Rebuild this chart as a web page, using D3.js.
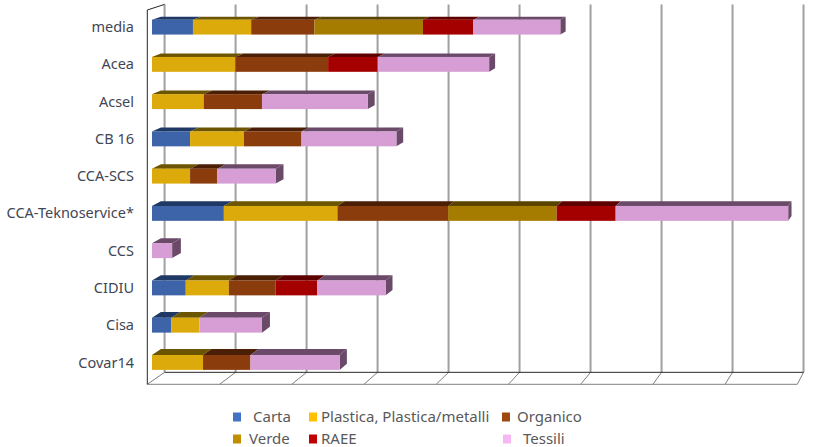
<!DOCTYPE html>
<html>
<head>
<meta charset="utf-8">
<script src="https://cdn.jsdelivr.net/npm/d3@7"></script>
<style>
  body { margin: 0; background: #fff; }
  svg { display: block; }
  text { font-family: "Noto Sans", sans-serif; }
</style>
</head>
<body>
<div id="chart"></div>
<script>
// data (no axis labels shown, one gridline = 10)
let categories = ["media", "Acea", "Acsel", "CB 16", "CCA-SCS", "CCA-Teknoservice*", "CCS", "CIDIU", "Cisa", "Covar14"];
let carta    = [5.7, 0, 0, 5.3, 0, 10.0, 0, 4.7, 2.7, 0];
let plastica = [8.1, 11.6, 7.2, 7.5, 5.3, 15.8, 0, 6.0, 3.9, 7.1];
let organico = [8.8, 12.9, 8.1, 8.0, 3.8, 15.4, 0, 6.5, 0, 6.6];
let verde    = [15.1, 0, 0, 0, 0, 15.1, 0, 0, 0, 0];
let raee     = [7.0, 6.9, 0, 0, 0, 8.2, 0, 5.8, 0, 0];
let tessili  = [12.1, 15.5, 14.7, 13.2, 8.1, 24.0, 2.8, 9.5, 8.7, 12.4];
let seriesNames = ["Carta", "Plastica, Plastica/metalli", "Organico", "Verde", "RAEE", "Tessili"];
let xTicks = [0, 10, 20, 30, 40, 50, 60, 70, 80, 90];

let width = 819, height = 447;

// front, top and legend colours per series
let frontCol  = ["#3d64a8", "#dcaa0a", "#8a3c0c", "#a67c00", "#a50000", "#d69ed5"];
let topCol    = ["#1f3864", "#6b5500", "#4a1f06", "#5a4300", "#5c0000", "#6b4a69"];
let legendCol = ["#4472c4", "#ffc000", "#9e480e", "#bf8f00", "#c00000", "#f6b8f2"];

// simple perspective: depth t pulls a point toward the vanishing point
let V = [1164, -320];
let proj = (x, y, t) => [x + t * (V[0] - x), y + t * (V[1] - y)];
let tFloor = 0.017, t0 = 0.0046, t1 = 0.0134;

let x = d3.scaleLinear().domain([0, 90]).range([147.3, 797.3]);
let y = d3.scaleBand().domain(categories).range([10, 384.3]).paddingInner(0.6).paddingOuter(0.3);
let yTop = 10, yBottom = 384.3;

let svg = d3.select("#chart").append("svg").attr("width", width).attr("height", height);

let line = (a, b, col, w) => svg.append("line")
    .attr("x1", a[0]).attr("y1", a[1]).attr("x2", b[0]).attr("y2", b[1])
    .attr("stroke", col).attr("stroke-width", w);

// back wall gridlines
xTicks.forEach(v => {
    line(proj(x(v), yTop, tFloor), proj(x(v), yBottom, tFloor), "#a0a0a0", 2);
    line(proj(x(v), yBottom, 0), proj(x(v), yBottom, tFloor), "#808080", 1);
});
// floor edges
line(proj(x(0), yBottom, tFloor), proj(x(90), yBottom, tFloor), "#262626", 1);
line([x(0), yBottom], [x(90), yBottom], "#808080", 1);
// left wall
line([x(0), yTop], [x(0), yBottom], "#262626", 1);
line([x(0), yTop], proj(x(0), yTop, tFloor), "#262626", 1);

let poly = pts => pts.map(p => p.join(",")).join(" ");
let series = [carta, plastica, organico, verde, raee, tessili];

categories.forEach((cat, i) => {
    let y0 = y(cat), y1 = y(cat) + y.bandwidth();
    let segs = [];
    let acc = 0;
    series.forEach((s, k) => {
        if (s[i] > 0) { segs.push({ k: k, a: acc, b: acc + s[i] }); acc += s[i]; }
    });
    let g = svg.append("g");
    // top faces
    segs.forEach(d => {
        let xa = x(d.a), xb = x(d.b);
        g.append("polygon")
            .attr("points", poly([proj(xa, y0, t0), proj(xb, y0, t0), proj(xb, y0, t1), proj(xa, y0, t1)]))
            .attr("fill", topCol[d.k]);
    });
    // right end side
    let last = segs[segs.length - 1];
    let xe = x(last.b);
    g.append("polygon")
        .attr("points", poly([proj(xe, y0, t0), proj(xe, y0, t1), proj(xe, y1, t1), proj(xe, y1, t0)]))
        .attr("fill", topCol[last.k]);
    // front faces
    segs.forEach(d => {
        let p0 = proj(x(d.a), y0, t0), p1 = proj(x(d.b), y1, t0);
        g.append("rect")
            .attr("x", p0[0]).attr("y", p0[1])
            .attr("width", p1[0] - p0[0]).attr("height", p1[1] - p0[1])
            .attr("fill", frontCol[d.k]);
    });
});

// category labels
svg.append("g").selectAll("text")
    .data(categories)
    .enter()
    .append("text")
    .attr("x", 134)
    .attr("y", d => proj(0, y(d) + y.bandwidth() / 2, t0)[1])
    .attr("dy", "0.35em")
    .attr("text-anchor", "end")
    .attr("font-size", 14.5)
    .attr("fill", "#3f4654")
    .text(d => d);

// legend
let legendPos = [[233, 417], [309, 417], [502, 417], [233, 439], [309, 439], [503, 439]];
let legendText = [253, 321, 517, 249, 321, 523];
let lg = svg.append("g");
seriesNames.forEach((n, k) => {
    lg.append("rect")
        .attr("x", legendPos[k][0]).attr("y", legendPos[k][1] - 4.5)
        .attr("width", 8).attr("height", 9)
        .attr("fill", legendCol[k]);
    lg.append("text")
        .attr("x", legendText[k]).attr("y", legendPos[k][1])
        .attr("dy", "0.35em")
        .attr("font-size", 15)
        .attr("fill", "#595959")
        .text(n);
});
</script>
</body>
</html>
